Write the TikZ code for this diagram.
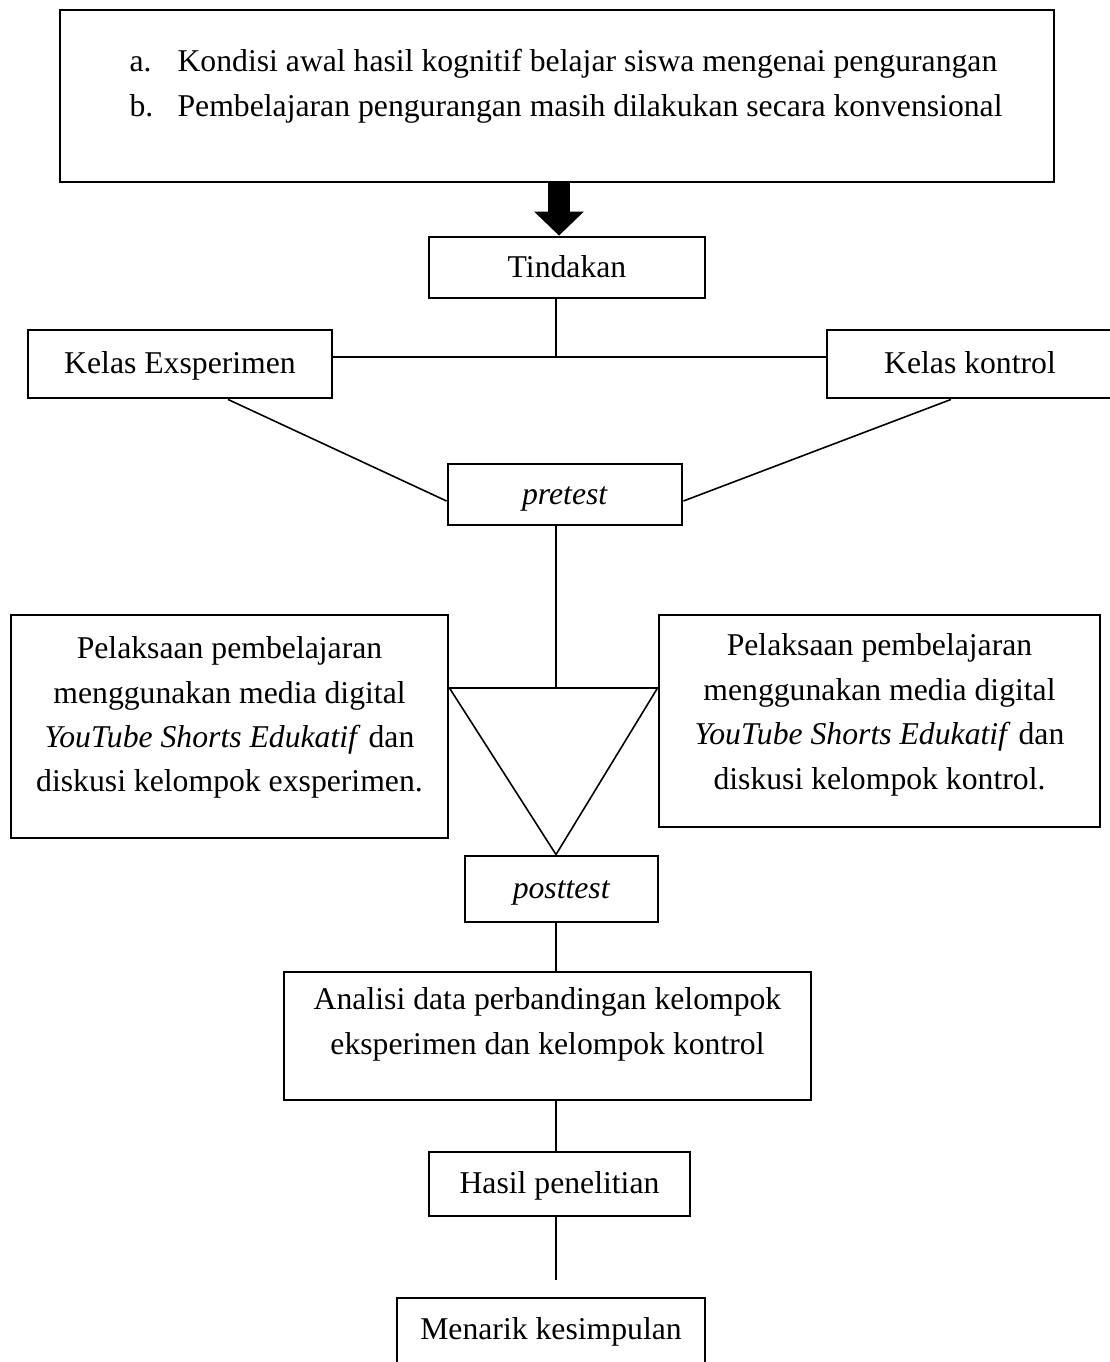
\documentclass[tikz,border=0pt]{standalone}
\usepackage{fontspec}
\setmainfont{Liberation Serif}
\usetikzlibrary{arrows.meta}

\newdimen\px \px=0.3785pt
\newcommand{\isi}[2]{\raisebox{#1}[\height][\depth]{\begin{tabular}{@{}c@{}}#2\end{tabular}}}

\begin{document}
\begin{tikzpicture}[x=0.3785pt,y=-0.3785pt,font=\fontsize{12}{16.8}\selectfont,
  kotak/.style={draw,line width=1.1pt,inner sep=0pt,align=center},
  satu/.style={text height=9.5pt,text depth=2.3pt},
  ukuran/.style 2 args={minimum width=#1\px,minimum height=#2\px},
  garis/.style={line width=0.6pt},
  blok/.style={line width=8.3pt,-{Triangle[width=18.9pt,length=9.1pt,line width=0pt]}}]
\useasboundingbox (0,0) rectangle (1109,1362);
\node[kotak,ukuran={994}{172}] (awal) at (557,96) {};
\node[anchor=west,inner sep=0pt] (daftar) at (129,85) {\begin{tabular}{@{}p{18.2pt}@{}l@{}}a.&Kondisi awal hasil kognitif belajar siswa mengenai pengurangan\\ b.&Pembelajaran pengurangan masih dilakukan secara konvensional\end{tabular}};
\node[kotak,satu,ukuran={276}{61}] (tindakan) at (567,267.5) {Tindakan};
\node[kotak,satu,ukuran={304}{68}] (eksp) at (180,364) {Kelas Exsperimen};
\node[kotak,satu,ukuran={286}{68}] (kontrol) at (970,364) {Kelas kontrol};
\node[kotak,satu,ukuran={234}{61}] (pretest) at (565,494.5) {\textit{pretest}};
\node[kotak,ukuran={437}{223}] (kiri) at (229.5,726.5) {\isi{3.8pt}{Pelaksaan pembelajaran\\ menggunakan media digital\\ \textit{YouTube Shorts Edukatif} dan\\ diskusi kelompok exsperimen.}};
\node[kotak,ukuran={441}{212}] (kanan) at (879.5,721) {\isi{2.8pt}{Pelaksaan pembelajaran\\ menggunakan media digital\\ \textit{YouTube Shorts Edukatif} dan\\ diskusi kelompok kontrol.}};
\node[kotak,satu,ukuran={193}{66}] (posttest) at (561.5,889) {\textit{posttest}};
\node[kotak,ukuran={527}{128}] (analisi) at (547.5,1036) {\isi{4.9pt}{Analisi data perbandingan kelompok\\ eksperimen dan kelompok kontrol}};
\node[kotak,satu,ukuran={261}{64}] (hasil) at (559.5,1184) {Hasil penelitian};
\node[kotak,ukuran={308}{76}] (menarik) at (551,1336) {\isi{2pt}{Menarik kesimpulan}};
\coordinate (panah) at (559,0);
\coordinate (simpang) at (556,357);
\coordinate (tengah) at (556,688);
\coordinate (ujung) at (556,1280);
\draw[blok] (panah |- awal.south) -- (panah |- tindakan.north);
\draw[garis] (tindakan.south -| simpang) -- (simpang);
\draw[garis] (eksp.east |- simpang) -- (kontrol.west |- simpang);
\draw[garis] ([shift={(48,0)}]eksp.south) -- ([shift={(0,6.5)}]pretest.west);
\draw[garis] ([shift={(-19,0)}]kontrol.south) -- ([shift={(0,6.5)}]pretest.east);
\draw[garis] (pretest.south -| tengah) -- (tengah);
\draw[garis] (kiri.east |- tengah) -- (kanan.west |- tengah) -- (posttest.north -| tengah) -- cycle;
\draw[garis] (posttest.south -| tengah) -- (analisi.north -| tengah);
\draw[garis] (analisi.south -| tengah) -- (hasil.north -| tengah);
\draw[garis] (hasil.south -| tengah) -- (ujung);
\end{tikzpicture}
\end{document}
